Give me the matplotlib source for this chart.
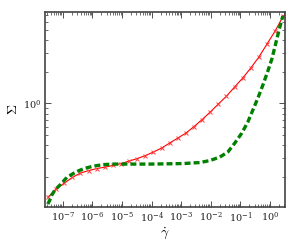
import matplotlib
matplotlib.use("Agg")
import matplotlib.pyplot as plt
import numpy as np

plt.rcParams['mathtext.fontset'] = 'cm'
plt.rcParams['font.family'] = ['DejaVu Serif']
plt.rcParams['lines.scale_dashes'] = False

# red series (x markers, solid): log10 of shear rate and Sigma
red_logx = [-7.50, -7.226, -6.952, -6.678, -6.404, -6.13, -5.856, -5.582, -5.308, -5.034,
            -4.76, -4.486, -4.212, -3.938, -3.664, -3.39, -3.116, -2.842, -2.568, -2.294,
            -2.02, -1.746, -1.472, -1.198, -0.924, -0.65, -0.376, -0.102, 0.172, 0.446]
red_sigma = [0.128, 0.153, 0.174, 0.197, 0.217, 0.229, 0.239, 0.247, 0.256, 0.267,
             0.282, 0.298, 0.318, 0.344, 0.375, 0.419, 0.467, 0.521, 0.601, 0.701,
             0.826, 0.985, 1.17, 1.43, 1.74, 2.17, 2.76, 3.67, 4.88, 6.78]

# green series (dashed)
green_logx = [-7.507, -7.439, -7.372, -7.27, -7.068, -6.865, -6.561, -6.291, -5.953, -5.615,
              -5.277, -4.838, -4.061, -2.946, -2.372, -2.034, -1.696, -1.426, -1.189, -0.953,
              -0.75, -0.581, -0.412, -0.243, -0.074, 0.061, 0.23, 0.331, 0.432]
green_sigma = [0.110, 0.120, 0.134, 0.149, 0.170, 0.197, 0.222, 0.239, 0.253, 0.261,
               0.264, 0.264, 0.264, 0.267, 0.273, 0.285, 0.308, 0.344, 0.419, 0.521,
               0.664, 0.863, 1.12, 1.49, 2.03, 2.64, 4.10, 5.33, 6.78]

xlabel = r'$\dot{\gamma}$'
ylabel = r'$\Sigma$'

fig = plt.figure(figsize=(3.0, 2.45), dpi=100)
ax = fig.add_axes([0.15, 0.155, 0.80, 0.796])

ax.plot(10.0 ** np.array(red_logx), red_sigma, color='red', lw=0.8,
        marker='x', markersize=3.5, markeredgewidth=0.7, markeredgecolor='#ff4040')
ax.plot(10.0 ** np.array(green_logx), green_sigma, color='green', lw=2.4,
        linestyle='--', dashes=(4.3, 2.2))

ax.set_xscale('log')
ax.set_yscale('log')
ax.set_xlim(2.5e-8, 3.2)
ax.set_ylim(0.103, 7.4)

ax.xaxis.set_major_locator(matplotlib.ticker.FixedLocator([1e-7, 1e-6, 1e-5, 1e-4, 1e-3, 1e-2, 1e-1, 1e0]))
ax.xaxis.set_minor_locator(matplotlib.ticker.LogLocator(base=10, subs=np.arange(2, 10), numticks=20))
ax.xaxis.set_major_formatter(matplotlib.ticker.LogFormatterMathtext())
ax.xaxis.set_minor_formatter(matplotlib.ticker.NullFormatter())
ax.yaxis.set_minor_formatter(matplotlib.ticker.NullFormatter())

ax.tick_params(which='both', direction='in', top=True, right=True, labelsize=7, colors='#333333',
               labelcolor='#222222')
ax.tick_params(which='major', length=4, width=0.6, pad=2.5)
ax.tick_params(which='minor', length=2, width=0.5)
for s in ax.spines.values():
    s.set_color('#444444')
    s.set_linewidth(1.2)

ax.set_xlabel(xlabel, fontsize=10, labelpad=0)
ax.set_ylabel(ylabel, fontsize=10, labelpad=2)

fig.savefig('out.png', dpi=100)
